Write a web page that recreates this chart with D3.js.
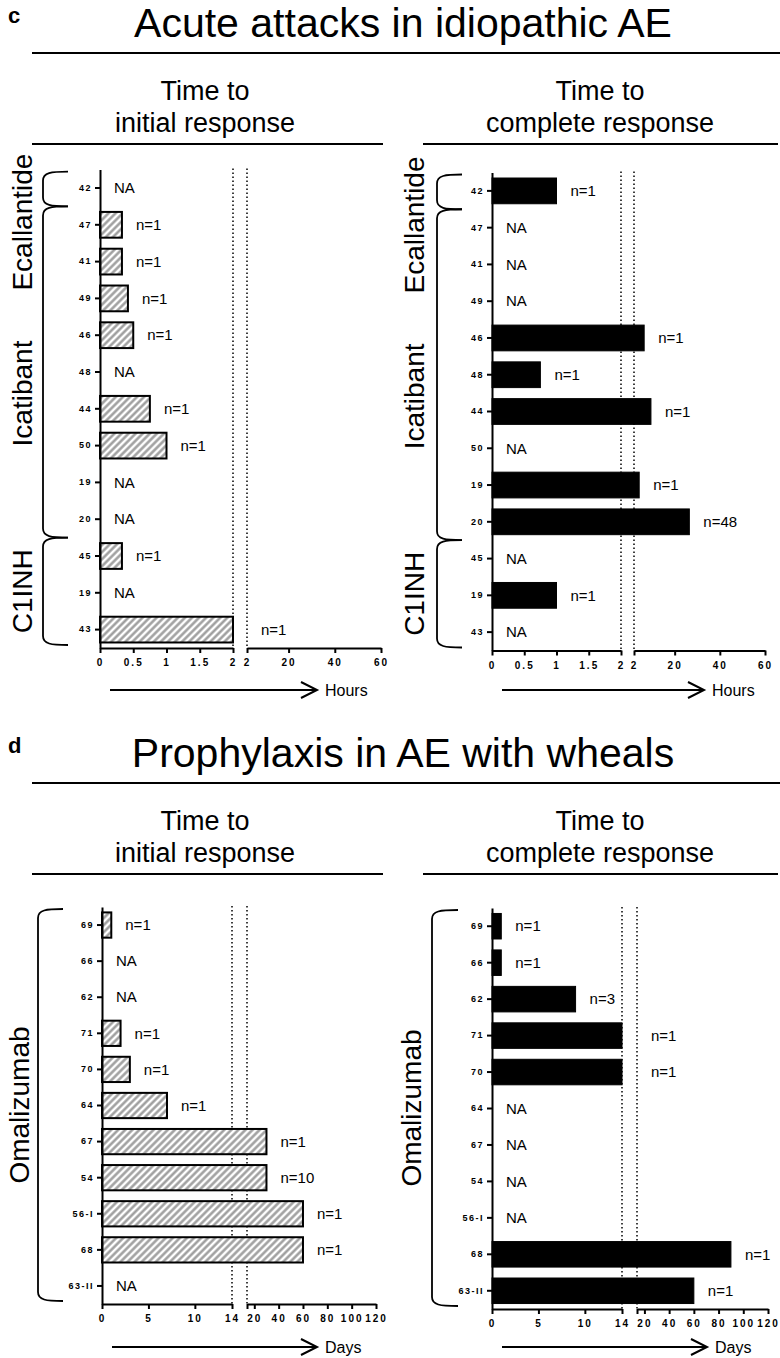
<!DOCTYPE html>
<html>
<head>
<meta charset="utf-8">
<script src="https://cdn.jsdelivr.net/npm/d3@7"></script>
<style>
body { margin: 0; background: #fff; }
svg { display: block; font-family: "Liberation Sans", Arial, sans-serif; }
</style>
</head>
<body>
<div class="chart"></div>
<script>
// panel c - acute attacks
const acuteRows = ["42", "47", "41", "49", "46", "48", "44", "50", "19", "20", "45", "19", "43"];
const acuteGroups = ["Ecallantide", "Icatibant", "C1INH"];
const acuteGroupSize = [1, 9, 3];
const acuteInitial = [null, 0.33, 0.33, 0.42, 0.5, null, 0.75, 1, null, null, 0.33, null, 2];
const acuteInitialN = [null, 1, 1, 1, 1, null, 1, 1, null, null, 1, null, 1];
const acuteComplete = [1, null, null, null, 6.5, 0.75, 9.5, null, 4.3, 26.5, null, 1, null];
const acuteCompleteN = [1, null, null, null, 1, 1, 1, null, 1, 48, null, 1, null];
const hourTicksLow = [0, 0.5, 1, 1.5, 2];
const hourTicksHigh = [2, 20, 40, 60];

// panel d - prophylaxis
const prophRows = ["69", "66", "62", "71", "70", "64", "67", "54", "56-I", "68", "63-II"];
const prophGroups = ["Omalizumab"];
const prophGroupSize = [11];
const prophInitial = [1, null, null, 2, 3, 7, 30, 30, 60, 60, null];
const prophInitialN = [1, null, null, 1, 1, 1, 1, 10, 1, 1, null];
const prophComplete = [1, 1, 9, 14, 14, null, null, null, null, 90, 60];
const prophCompleteN = [1, 1, 3, 1, 1, null, null, null, null, 1, 1];
const dayTicksLow = [0, 5, 10, 14];
const dayTicksHigh = [14, 20, 40, 60, 80, 100, 120];

const W = 780, H = 1358;

const svg = d3.select(".chart").append("svg")
    .attr("width", W)
    .attr("height", H);

const defs = svg.append("defs");
const hatch = defs.append("pattern")
    .attr("id", "hatch")
    .attr("patternUnits", "userSpaceOnUse")
    .attr("width", 5)
    .attr("height", 5)
    .attr("patternTransform", "rotate(45)");
hatch.append("rect").attr("width", 5).attr("height", 5).attr("fill", "#fff");
hatch.append("line")
    .attr("x1", 2.5).attr("y1", 0).attr("x2", 2.5).attr("y2", 5)
    .attr("stroke", "#9a9a9a").attr("stroke-width", 2.4);

function header(letter, title, dy) {
    const h = svg.append("g").attr("transform", "translate(0," + dy + ")");
    h.append("text").attr("x", 8).attr("y", 23)
        .style("font-size", "22px").style("font-weight", "bold").text(letter);
    h.append("text").attr("x", 403).attr("y", 37)
        .attr("text-anchor", "middle").style("font-size", "41px").text(title);
    h.append("line").attr("x1", 32).attr("x2", 780).attr("y1", 53).attr("y2", 53)
        .attr("stroke", "#000").attr("stroke-width", 2);
    [["initial response", 205, 32, 383], ["complete response", 600, 423, 778]].forEach(s => {
        h.append("text").attr("x", s[1]).attr("y", 100)
            .attr("text-anchor", "middle").style("font-size", "27px").text("Time to");
        h.append("text").attr("x", s[1]).attr("y", 132)
            .attr("text-anchor", "middle").style("font-size", "27px").text(s[0]);
        h.append("line").attr("x1", s[2]).attr("x2", s[3]).attr("y1", 144).attr("y2", 144)
            .attr("stroke", "#000").attr("stroke-width", 2);
    });
}

header("c", "Acute attacks in idiopathic AE", 0);
header("d", "Prophylaxis in AE with wheals", 730);

function drawPanel(p) {
    const g = svg.append("g");
    const idx = d3.range(p.rows.length);

    const y = d3.scaleBand().domain(idx).range(p.yr).paddingInner(0.3).paddingOuter(0.15);
    const bw = y.bandwidth(), gapHalf = (y.step() - bw) / 2;
    const xLow = d3.scaleLinear().domain(d3.extent(p.lowTicks)).range(p.x1);
    const xHigh = d3.scaleLinear().domain(d3.extent(p.highTicks)).range(p.x2);
    const brk = p.lowTicks[p.lowTicks.length - 1];
    const ax = p.x1[0], axisY = p.yr[1];
    const barEnd = v => v <= brk ? xLow(v) : xHigh(v);
    const labelPos = v => (v >= brk ? xHigh(v) : xLow(v)) + 14;

    // dotted break lines
    [xLow(brk), xHigh(brk)].forEach(x => {
        g.append("line").attr("x1", x).attr("x2", x)
            .attr("y1", p.yr[0] - 1).attr("y2", axisY)
            .attr("stroke", "#000").attr("stroke-width", 1.5)
            .attr("stroke-dasharray", "1.5,2.5");
    });

    const withVal = idx.filter(i => p.values[i] != null);
    g.selectAll(".bar").data(withVal).enter().append("rect")
        .attr("class", "bar")
        .attr("x", ax)
        .attr("y", i => y(i))
        .attr("height", bw)
        .attr("width", i => barEnd(p.values[i]) - ax)
        .attr("fill", p.hatched ? "url(#hatch)" : "#000")
        .attr("stroke", "#000")
        .attr("stroke-width", p.hatched ? 2 : 1);

    g.selectAll(".nlab").data(idx).enter().append("text")
        .attr("class", "nlab")
        .attr("x", i => p.values[i] == null ? ax + 14 : labelPos(p.values[i]))
        .attr("y", i => y(i) + bw / 2)
        .attr("dy", "0.35em")
        .style("font-size", "15px")
        .text(i => p.values[i] == null ? "NA" : "n=" + p.ns[i]);

    // y axis
    const yAxis = g.append("g").attr("transform", "translate(" + ax + ",0)")
        .call(d3.axisLeft(y).tickSize(5).tickSizeOuter(0).tickPadding(3).tickFormat(i => p.rows[i]));

    // x axis, two segments
    const fmt = d => d;
    const xa1 = g.append("g").attr("transform", "translate(0," + axisY + ")")
        .call(d3.axisBottom(xLow).tickValues(p.lowTicks).tickSize(5).tickSizeOuter(0).tickPadding(6).tickFormat(fmt));
    const xa2 = g.append("g").attr("transform", "translate(0," + axisY + ")")
        .call(d3.axisBottom(xHigh).tickValues(p.highTicks).tickSize(5).tickSizeOuter(0).tickPadding(6)
            .tickFormat(d => (d === brk && brk !== 2) ? "" : d));

    [yAxis, xa1, xa2].forEach(a => {
        a.attr("font-family", null);
        a.selectAll("path, line").attr("stroke", "#000").attr("stroke-width", 2);
        a.selectAll("text").style("font-weight", "bold").style("fill", "#000");
    });
    yAxis.selectAll("text").style("font-size", "9px").style("letter-spacing", "1.5px");
    [xa1, xa2].forEach(a => a.selectAll("text").style("font-size", "10px").style("letter-spacing", "2px"));

    // brackets and group labels
    let start = 0, prevBottom = -Infinity;
    p.groups.forEach((name, k) => {
        const n = p.sizes[k];
        let top = y(start) - gapHalf, bot = y(start + n - 1) + bw + gapHalf;
        if (k === 0) top += 2;
        if (k === p.groups.length - 1) bot -= 3;
        const [b0, b1] = p.brX;
        g.append("path")
            .attr("d", `M${b1},${top} C${b0 + 8},${top} ${b0},${top + 1} ${b0},${top + 9} L${b0},${bot - 9} C${b0},${bot - 1} ${b0 + 8},${bot} ${b1},${bot}`)
            .attr("fill", "none").attr("stroke", "#000").attr("stroke-width", 1.8);

        const t = g.append("text").style("font-size", "28px").attr("text-anchor", "middle").text(name);
        const half = t.node().getComputedTextLength() / 2;
        let cy = (top + bot) / 2;
        if (cy - half < p.yr[0] - 16) cy = p.yr[0] - 16 + half;
        if (cy - half < prevBottom + 50) cy = prevBottom + 50 + half;
        prevBottom = cy + half;
        t.attr("transform", "translate(" + p.labX + "," + cy + ") rotate(-90)");
        start += n;
    });

    // unit arrow
    const a0 = ax + 10, a1 = p.x2[0] + 70;
    g.append("line").attr("x1", a0).attr("x2", a1).attr("y1", p.arrowY).attr("y2", p.arrowY)
        .attr("stroke", "#000").attr("stroke-width", 2);
    g.append("path")
        .attr("d", `M${a1 - 16},${p.arrowY - 8} L${a1},${p.arrowY} L${a1 - 16},${p.arrowY + 8}`)
        .attr("fill", "none").attr("stroke", "#000").attr("stroke-width", 2);
    g.append("text").attr("x", a1 + 8).attr("y", p.arrowY).attr("dy", "0.35em")
        .style("font-size", "16px").text(p.unit);
}

drawPanel({
    rows: acuteRows, groups: acuteGroups, sizes: acuteGroupSize,
    values: acuteInitial, ns: acuteInitialN, hatched: true,
    lowTicks: hourTicksLow, highTicks: hourTicksHigh, unit: "Hours",
    x1: [100, 233], x2: [247, 381], yr: [169.6, 648], brX: [43, 68], labX: 32, arrowY: 690
});
drawPanel({
    rows: acuteRows, groups: acuteGroups, sizes: acuteGroupSize,
    values: acuteComplete, ns: acuteCompleteN, hatched: false,
    lowTicks: hourTicksLow, highTicks: hourTicksHigh, unit: "Hours",
    x1: [492, 621], x2: [634, 765], yr: [172.5, 650.5], brX: [437, 462], labX: 424, arrowY: 690
});
drawPanel({
    rows: prophRows, groups: prophGroups, sizes: prophGroupSize,
    values: prophInitial, ns: prophInitialN, hatched: true,
    lowTicks: dayTicksLow, highTicks: dayTicksHigh, unit: "Days",
    x1: [102, 232], x2: [247, 376], yr: [907, 1304], brX: [38, 63], labX: 29, arrowY: 1347
});
drawPanel({
    rows: prophRows, groups: prophGroups, sizes: prophGroupSize,
    values: prophComplete, ns: prophCompleteN, hatched: false,
    lowTicks: dayTicksLow, highTicks: dayTicksHigh, unit: "Days",
    x1: [492, 622], x2: [637, 768], yr: [908, 1309], brX: [432, 458], labX: 421, arrowY: 1347
});
</script>
</body>
</html>
